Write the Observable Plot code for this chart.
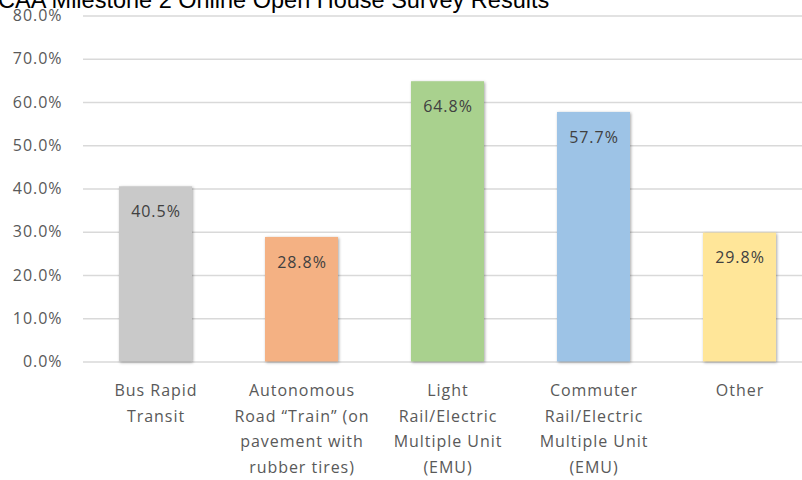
<!DOCTYPE html>
<html>
<head>
<meta charset="utf-8">
<script src="https://cdn.jsdelivr.net/npm/d3@7"></script>
<script src="https://cdn.jsdelivr.net/npm/@observablehq/plot@0.6"></script>
<style>
  html, body { margin: 0; padding: 0; background: #fff; }
  #wrap { position: relative; width: 802px; height: 480px; overflow: hidden; }
</style>
</head>
<body>
<div id="wrap"></div>
<script>
const title = "CAA Milestone 2 Online Open House Survey Results";
const categories = [
  "Bus Rapid\nTransit",
  "Autonomous\nRoad “Train” (on\npavement with\nrubber tires)",
  "Light\nRail/Electric\nMultiple Unit\n(EMU)",
  "Commuter\nRail/Electric\nMultiple Unit\n(EMU)",
  "Other"
];
const values = [40.5, 28.8, 64.8, 57.7, 29.8];
const colors = ["#C9C9C9", "#F4B183", "#A9D18E", "#9DC3E6", "#FFE699"];
const yTicks = [0, 10, 20, 30, 40, 50, 60, 70, 80];

const data = categories.map((c, i) => ({category: c, value: values[i], color: colors[i]}));

const chart = Plot.plot({
  width: 802,
  height: 480,
  marginLeft: 83,
  marginRight: 0,
  marginTop: 15.5,
  marginBottom: 118.5,
  style: {fontFamily: "'Open Sans', sans-serif", fontSize: "16px", color: "#595959", letterSpacing: "0.06em", background: "transparent", overflow: "hidden"},
  x: {domain: categories, range: [82.5, 812.5], paddingInner: 0.5, paddingOuter: 0.25, label: null},
  y: {domain: [0, 80], label: null},
  marks: [
    Plot.ruleY(yTicks, {stroke: "#D9D9D9", strokeWidth: 1.5}),
    Plot.barY(data, {x: "category", y: "value", fill: "color"}),
    Plot.text(data, {x: "category", y: "value", text: d => d.value.toFixed(1) + "%", dy: 25, fill: "#404040", fontSize: 16}),
    Plot.axisY({ticks: yTicks, tickFormat: d => d.toFixed(1) + "%", tickSize: 0, tickPadding: 21, fontSize: 16, fill: "#595959"}),
    Plot.axisX({tickSize: 0, tickPadding: 16, lineHeight: 1.6, fontSize: 16, fill: "#595959"})
  ]
});
document.getElementById("wrap").appendChild(chart);
d3.select(chart).selectAll("g[aria-label='bar'] rect").style("filter", "drop-shadow(1px 1px 1.5px rgba(0,0,0,0.35))");
d3.select(chart).append("text")
  .attr("x", -2).attr("y", 8)
  .attr("text-anchor", "start")
  .attr("font-family", "'Liberation Sans', Arial, sans-serif")
  .attr("font-size", "23.5px")
  .style("letter-spacing", "0")
  .attr("fill", "#000")
  .text(title);
</script>
</body>
</html>
